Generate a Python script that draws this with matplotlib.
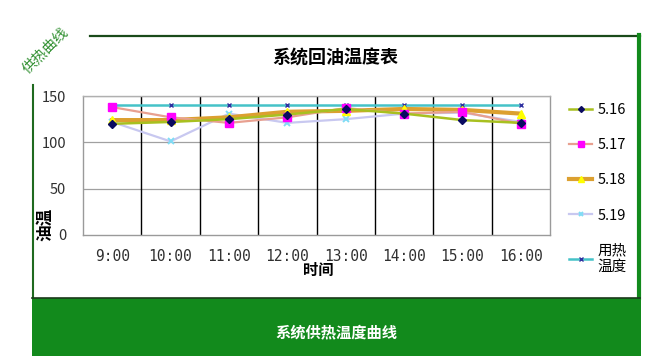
import matplotlib
matplotlib.use("Agg")
import matplotlib.pyplot as plt
from matplotlib.lines import Line2D
from matplotlib.patches import Rectangle

plt.rcParams['font.family'] = ['Noto Sans CJK SC', 'DejaVu Sans']

hours = ["9:00", "10:00", "11:00", "12:00", "13:00", "14:00", "15:00", "16:00"]
s516 = [120, 122, 125, 130, 136, 131, 124, 121]
s517 = [138, 127, 121, 127, 137, 131, 133, 120]
s518 = [124, 124, 127, 133, 134, 136, 135, 131]
s519 = [122, 101, 131, 121, 125, 131, 132, 122]
heat = [140, 140, 140, 140, 140, 140, 140, 140]
series_names = ["5.16", "5.17", "5.18", "5.19", "用热\n温度"]
yticks = [0, 50, 100, 150]

W, H = 656, 363
fig = plt.figure(figsize=(W / 100, H / 100), dpi=100)
fig.patch.set_facecolor("white")

# background/frame layer in pixel coordinates
bg = fig.add_axes([0, 0, 1, 1])
bg.set_xlim(0, W)
bg.set_ylim(H, 0)
bg.axis("off")
green = "#128a1c"
bg.add_patch(Rectangle((32, 298), 609, 58, facecolor=green, edgecolor="none"))
bg.add_line(Line2D([90, 640], [36, 36], color="#1a4a1a", lw=1.6))
bg.add_line(Line2D([33, 33], [85, 298], color="#1f6a1f", lw=1.5))
bg.add_line(Line2D([638.5, 638.5], [35, 298], color=green, lw=3))
bg.add_line(Line2D([32, 640], [297.5, 297.5], color="#1a3a1a", lw=1.2))
bg.text(45, 50, "供热曲线", color="#2f8f2f", fontsize=10.5, rotation=45,
        ha="center", va="center")
bg.text(336, 332, "系统供热温度曲线", color="white", fontsize=11,
        fontweight="bold", ha="center", va="center")
bg.text(335, 58, "系统回油温度表", color="black", fontsize=13,
        fontweight="bold", ha="center", va="center")
bg.text(45, 224, "油温", color="black", fontsize=12, fontweight="bold",
        rotation=90, ha="center", va="center")
bg.text(318, 270, "时间", color="black", fontsize=11, fontweight="bold",
        ha="center", va="center")

# plot axes
L, R, T, B = 83, 550, 96, 235
ax = fig.add_axes([L / W, 1 - B / H, (R - L) / W, (B - T) / H])
ax.set_facecolor("white")
x = list(range(len(hours)))

ax.plot(x, heat, color="#45c2c8", lw=1.8, marker="x", ms=3.5, mec="#3030a0",
        mew=1.0, label=series_names[4], zorder=3)
ax.plot(x, s519, color="#c8c8f0", lw=1.6, marker="x", ms=4, mec="#7fdcf5",
        mew=1.4, label=series_names[3], zorder=3)
ax.plot(x, s518, color="#dca030", lw=3.0, marker="^", ms=5.5, mfc="#ffff00",
        mec="#ffff00", label=series_names[2], zorder=4)
ax.plot(x, s517, color="#e8a090", lw=1.6, marker="s", ms=5.5, mfc="#ff00ff",
        mec="#ff00ff", label=series_names[1], zorder=5)
ax.plot(x, s516, color="#a8c020", lw=1.8, marker="D", ms=4, mfc="#0a0a60",
        mec="#0a0a60", label=series_names[0], zorder=6)

ax.set_xlim(-0.5, len(hours) - 0.5)
ax.set_ylim(0, 150)
ax.set_yticks(yticks)
ax.set_xticks(x)
ax.set_xticklabels(hours, family=["DejaVu Sans Mono"], fontsize=10.5)
ax.set_yticklabels([str(v) for v in yticks], fontsize=10.5)
for v in yticks[1:]:
    ax.axhline(v, color="#a0a0a0", lw=0.9, zorder=1)
for k in range(1, len(hours)):
    ax.axvline(k - 0.5, color="black", lw=1.0, zorder=1)
for s in ax.spines.values():
    s.set_color("#9a9a9a")
    s.set_linewidth(1.0)
ax.spines["top"].set_color("#b0b0b0")
ax.tick_params(axis="both", length=0, colors="#303030", pad=10)
ax.tick_params(axis="y", pad=12)

handles, labels = ax.get_legend_handles_labels()
order = [4, 3, 2, 1, 0]
leg = fig.legend([handles[i] for i in order], [labels[i] for i in order],
                 loc="upper left", bbox_to_anchor=(556 / W, 1 - 90 / H),
                 frameon=False, fontsize=10.5, handlelength=1.6,
                 labelspacing=1.45, handletextpad=0.35, markerscale=0.75)

fig.savefig("out.png", dpi=100, facecolor="white")
